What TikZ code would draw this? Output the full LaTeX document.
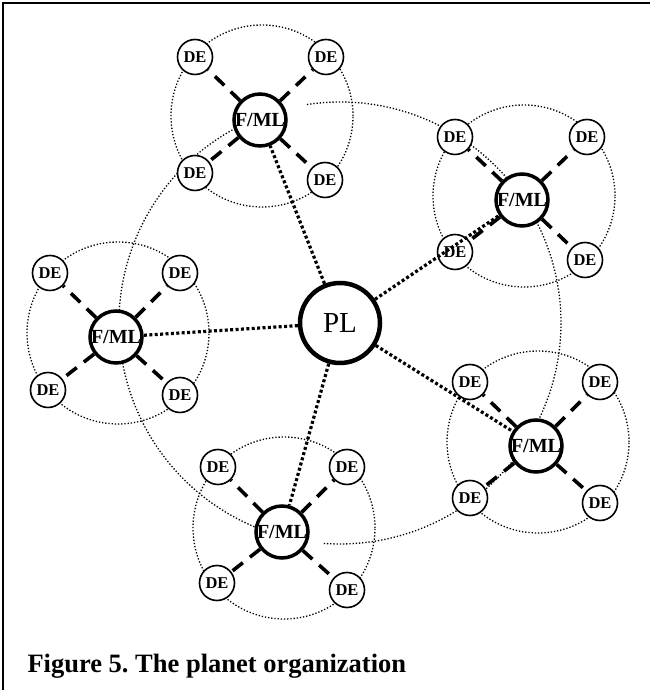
\documentclass[tikz,border=0pt]{standalone}
\usepackage{fontspec}
\setmainfont{Liberation Serif}
\begin{document}
\begin{tikzpicture}[
       x=1pt, y=1pt,
       planete/.style={
         circle,
         draw,
         fill=white,
         line width=4.5pt,
         inner sep=0pt,
         minimum size=80pt,
         font=\fontsize{29}{31}\selectfont
       },
       chef/.style={
         circle,
         draw,
         fill=white,
         line width=3.5pt,
         inner sep=0pt,
         minimum size=52pt,
         font=\bfseries\fontsize{20}{22}\selectfont
       },
       membre/.style={
         circle,
         draw,
         fill=white,
         line width=1.6pt,
         inner sep=0pt,
         minimum size=35pt,
         font=\bfseries\fontsize{16.5}{18}\selectfont
       },
       lien/.style={line width=3.2pt, dash pattern=on 3pt off 2.4pt},
       branche/.style={line width=3.6pt, dash pattern=on 13pt off 9pt},
       orbite/.style={line width=1.3pt, dash pattern=on 1.3pt off 1.9pt}
     ]

       \useasboundingbox (0,0) rectangle (650,690);
       \draw[line width=2.4pt] (3,0) -- (3,687) -- (650,687);

       % orbites
       \draw[orbite] (340,367) ++(98.6:221pt) arc[start angle=98.6, end angle=-94.7, radius=221pt];
       \draw[orbite] (340,367) ++(110:221pt) arc[start angle=110, end angle=256, radius=221pt];
       \draw[orbite] (262,574) circle (91pt);
       \draw[orbite] (524,494) circle (91pt);
       \draw[orbite] (118,357) circle (91pt);
       \draw[orbite] (538,248) circle (91pt);
       \draw[orbite] (284,162) circle (91pt);

       \node (p) at (340,367) [planete]{PL};

       \node (f1) at (260,570) [chef]{F/ML};
       \node (f2) at (522,490) [chef]{F/ML};
       \node (f3) at (116,353) [chef]{F/ML};
       \node (f4) at (536,244) [chef]{F/ML};
       \node (f5) at (282,158) [chef]{F/ML};

       \node (d1) at (195,633) [membre]{DE};
       \node (d2) at (326,633) [membre]{DE};
       \node (d3) at (195,517) [membre]{DE};
       \node (d4) at (325,510) [membre]{DE};

       \node (d5) at (455,553) [membre]{DE};
       \node (d6) at (587,553) [membre]{DE};
       \node (d7) at (455,438) [membre]{DE};
       \node (d8) at (585,430) [membre]{DE};

       \node (d9) at (50,417) [membre]{DE};
       \node (d10) at (180,417) [membre]{DE};
       \node (d11) at (48,300) [membre]{DE};
       \node (d12) at (180,295) [membre]{DE};

       \node (d13) at (470,308) [membre]{DE};
       \node (d14) at (600,308) [membre]{DE};
       \node (d15) at (470,192) [membre]{DE};
       \node (d16) at (600,187) [membre]{DE};

       \node (d17) at (218,223) [membre]{DE};
       \node (d18) at (347,223) [membre]{DE};
       \node (d19) at (217,107) [membre]{DE};
       \node (d20) at (347,100) [membre]{DE};

       \node (titre) at (24,17) [anchor=base west, font=\bfseries\fontsize{26.5}{29}\selectfont]{Figure 5.\ The planet organization};

       \draw[lien] (p) -- (f1);
       \draw[lien] (p) -- (f2);
       \draw[lien] (p) -- (f3);
       \draw[lien] (p) -- (f4);
       \draw[lien] (p) -- (f5);

       \draw[branche] (f1) -- (d1);
       \draw[branche] (f1) -- (d2);
       \draw[branche] (f1) -- (d3);
       \draw[branche] (f1) -- (d4);

       \draw[branche] (f2) -- (d5);
       \draw[branche] (f2) -- (d6);
       \draw[branche] (f2) -- (d7);
       \draw[branche] (f2) -- (d8);

       \draw[branche] (f3) -- (d9);
       \draw[branche] (f3) -- (d10);
       \draw[branche] (f3) -- (d11);
       \draw[branche] (f3) -- (d12);

       \draw[branche] (f4) -- (d13);
       \draw[branche] (f4) -- (d14);
       \draw[branche] (f4) -- (d15);
       \draw[branche] (f4) -- (d16);

       \draw[branche] (f5) -- (d17);
       \draw[branche] (f5) -- (d18);
       \draw[branche] (f5) -- (d19);
       \draw[branche] (f5) -- (d20);

\end{tikzpicture}
\end{document}
